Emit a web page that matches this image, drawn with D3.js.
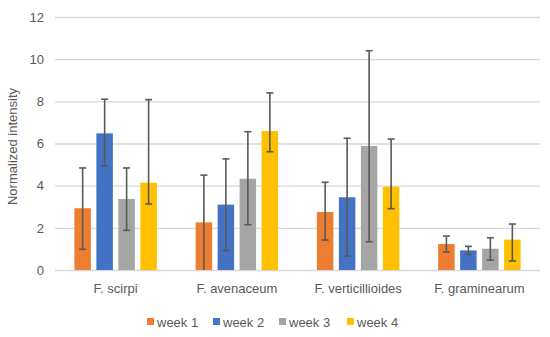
<!DOCTYPE html>
<html>
<head>
<meta charset="utf-8">
<style>
    body { margin: 0; background: #fff; }
    svg { display: block; font-family: 'Liberation Sans', Arial, sans-serif; }
    .y .tick line { stroke: #d9d9d9; stroke-width: 1.3; }
    .domain { display: none; }
    .y .tick text { font-size: 13px; fill: #595959; }
    .x .tick text { font-size: 13px; fill: #595959; }
    .x .tick line { display: none; }
</style>
</head>
<body>
<svg width="550" height="337"></svg>
<script src="https://d3js.org/d3.v7.min.js"></script>
<script>
// categories and series
let species = ["F. scirpi", "F. avenaceum", "F. verticillioides", "F. graminearum"];
let weeks = ["week 1", "week 2", "week 3", "week 4"];
let colors = ["#ED7D31", "#4472C4", "#A5A5A5", "#FFC000"];

// mean value per species, one array per week
let week1 = [2.93, 2.26, 2.75, 1.23];
let week2 = [6.48, 3.10, 3.45, 0.93];
let week3 = [3.37, 4.33, 5.88, 1.01];
let week4 = [4.14, 6.59, 3.95, 1.44];

// error bar ends (upper / lower)
let week1Hi = [4.84, 4.50, 4.16, 1.61];
let week1Lo = [0.98, 0.00, 1.42, 0.85];
let week2Hi = [8.10, 5.27, 6.25, 1.12];
let week2Lo = [4.93, 0.92, 0.66, 0.73];
let week3Hi = [4.84, 6.56, 10.40, 1.53];
let week3Lo = [1.88, 2.15, 1.34, 0.47];
let week4Hi = [8.08, 8.40, 6.21, 2.18];
let week4Lo = [3.13, 5.61, 2.91, 0.43];

let yTicks = [0, 2, 4, 6, 8, 10, 12];

let means = [week1, week2, week3, week4];
let his = [week1Hi, week2Hi, week3Hi, week4Hi];
let los = [week1Lo, week2Lo, week3Lo, week4Lo];

let data = [];
species.forEach((s, i) => {
    weeks.forEach((w, j) => {
        data.push({ species: s, week: w, value: means[j][i], hi: his[j][i], lo: los[j][i], color: colors[j] });
    });
});

let margin = { top: 17, right: 10, bottom: 67, left: 55 };
let width = 550, height = 337;
let svg = d3.select("svg");

let x0 = d3.scaleBand()
    .domain(species)
    .range([margin.left, width - margin.right])
    .paddingInner(0.32)
    .paddingOuter(0.16);

let x1 = d3.scaleBand()
    .domain(weeks)
    .range([0, x0.bandwidth()])
    .paddingInner(0.25);

let y = d3.scaleLinear()
    .domain([0, 12])
    .range([height - margin.bottom, margin.top]);

// gridlines + y labels
svg.append("g")
    .attr("class", "y axis")
    .attr("transform", `translate(${margin.left},0)`)
    .call(d3.axisLeft(y).tickValues(yTicks).tickSize(-(width - margin.left - margin.right)).tickPadding(11));

// x labels (full band axis over the plot)
let xc = d3.scaleBand().domain(species).range([margin.left, width - margin.right]);
svg.append("g")
    .attr("class", "x axis")
    .attr("transform", `translate(0,${y(0)})`)
    .call(d3.axisBottom(xc).tickSize(0).tickPadding(14));

// bars
svg.append("g").selectAll("rect")
    .data(data)
    .join("rect")
    .attr("x", d => x0(d.species) + x1(d.week))
    .attr("y", d => y(d.value))
    .attr("width", x1.bandwidth())
    .attr("height", d => y(0) - y(d.value))
    .attr("fill", d => d.color);

// error bars
let eb = svg.append("g").selectAll("g")
    .data(data)
    .join("g")
    .attr("transform", d => `translate(${x0(d.species) + x1(d.week) + x1.bandwidth() / 2},0)`)
    .attr("stroke", "#595959")
    .attr("stroke-width", 1.6);

eb.append("line")
    .attr("y1", d => y(d.hi))
    .attr("y2", d => y(d.lo));
eb.append("line")
    .attr("x1", -3.5).attr("x2", 3.5)
    .attr("y1", d => y(d.hi)).attr("y2", d => y(d.hi));
eb.append("line")
    .attr("x1", -3.5).attr("x2", 3.5)
    .attr("y1", d => y(d.lo)).attr("y2", d => y(d.lo))
    .attr("display", d => d.lo <= 0 ? "none" : null);

// y title
svg.append("text")
    .attr("transform", `translate(17,${(y(0) + y(12)) / 2 + 3}) rotate(-90)`)
    .attr("text-anchor", "middle")
    .attr("font-size", 13)
    .attr("fill", "#595959")
    .text("Normalized intensity");

// legend
let legendX = [147, 213, 279, 347];
let lg = svg.append("g").selectAll("g")
    .data(weeks)
    .join("g")
    .attr("transform", (d, i) => `translate(${legendX[i]},322)`);
lg.append("rect")
    .attr("x", 0).attr("y", -4)
    .attr("width", 7).attr("height", 7)
    .attr("fill", (d, i) => colors[i]);
lg.append("text")
    .attr("x", 10)
    .attr("y", 4.5)
    .attr("font-size", 13)
    .attr("fill", "#595959")
    .text(d => d);
</script>
</body>
</html>
